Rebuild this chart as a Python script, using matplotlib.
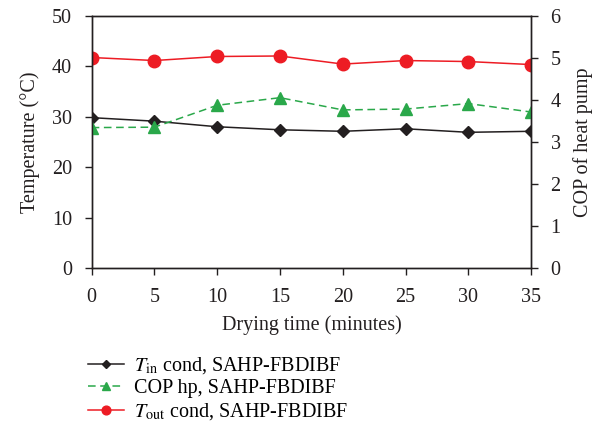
import matplotlib
matplotlib.use("Agg")
import matplotlib.pyplot as plt
from matplotlib.ticker import MultipleLocator

plt.rcParams['font.family'] = ['Liberation Serif', 'DejaVu Serif']
plt.rcParams['mathtext.fontset'] = 'stix'

# drying time (minutes)
time_min = [0, 5, 10, 15, 20, 25, 30, 35]
# condenser temperatures (deg C)
t_in_cond = [29.8, 29.1, 28.0, 27.4, 27.1, 27.6, 26.9, 27.1]
t_out_cond = [41.7, 41.1, 41.9, 42.0, 40.4, 41.1, 40.9, 40.3]
# heat pump COP
cop_hp = [3.34, 3.35, 3.87, 4.05, 3.76, 3.78, 3.91, 3.71]

black = '#231f20'
green = '#2aa84a'
red = '#ed1c24'
fs = 14.5


def main():
    fig = plt.figure(figsize=(6.07, 4.32), dpi=100)
    ax = fig.add_axes([0.151, 0.379, 0.724, 0.585])
    ax2 = ax.twinx()

    l1, = ax.plot(time_min, t_in_cond, color=black, lw=1.1, marker='D',
                  markersize=6.5, label=r'$T_{\rm in}$ cond, SAHP-FBDIBF')
    l3, = ax.plot(time_min, t_out_cond, color=red, lw=1.1, marker='o',
                  markersize=9, label=r'$T_{\rm out}$ cond, SAHP-FBDIBF')
    l2, = ax2.plot(time_min, cop_hp, color=green, lw=1.1, ls=(0, (5, 3)),
                   marker='^', markersize=8, label='COP hp, SAHP-FBDIBF')

    ax.set_xlim(0, 35)
    ax.set_ylim(0, 50)
    ax2.set_ylim(0, 6)
    ax.xaxis.set_major_locator(MultipleLocator(5))
    ax.yaxis.set_major_locator(MultipleLocator(10))
    ax2.yaxis.set_major_locator(MultipleLocator(1))

    for a in (ax, ax2):
        a.tick_params(direction='out', length=5, width=1, labelsize=fs,
                      colors=black, pad=9)
        for s in a.spines.values():
            s.set_linewidth(1)
            s.set_color(black)

    ax.set_xlabel('Drying time (minutes)', fontsize=fs, color=black, labelpad=6)
    ax.set_ylabel('Temperature (°C)', fontsize=fs, color=black, labelpad=9)
    ax2.set_ylabel('COP of heat pump', fontsize=fs, color=black, labelpad=9)

    fig.legend(handles=[l1, l2, l3], loc='upper left',
               bbox_to_anchor=(0.145, 0.178), bbox_transform=fig.transFigure,
               frameon=False, fontsize=fs, numpoints=1, handlelength=1.8,
               markerscale=0.7, handletextpad=0.5, labelspacing=0.15,
               borderpad=0, borderaxespad=0)

    fig.savefig('out.png', dpi=100)


if __name__ == '__main__':
    main()
